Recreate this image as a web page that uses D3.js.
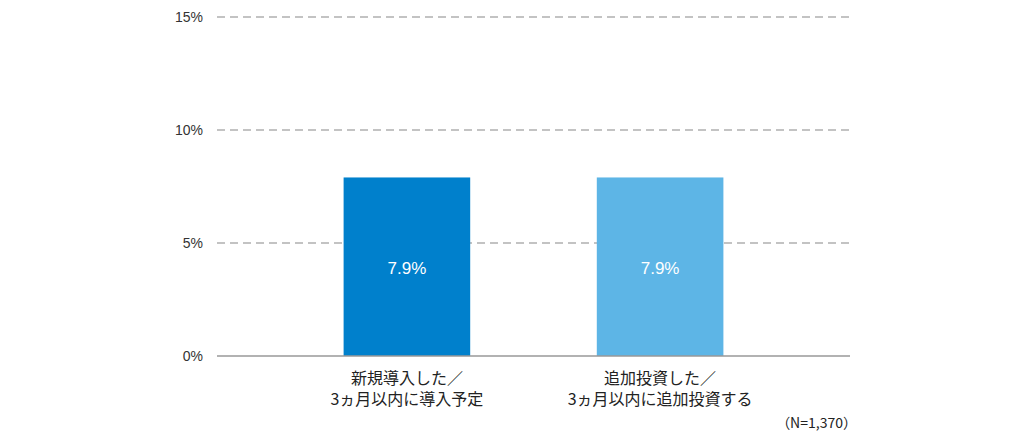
<!DOCTYPE html>
<html><head><meta charset="utf-8">
<script src="https://cdn.jsdelivr.net/npm/d3@7"></script>
<style>body{margin:0;background:#fff;font-family:"Noto Sans CJK JP",Arial,sans-serif;}</style>
</head><body><svg id="chart" width="1030" height="447"></svg>
<script>
// chart data
const categories = [["新規導入した／", "3ヵ月以内に導入予定"], ["追加投資した／", "3ヵ月以内に追加投資する"]];
const values = [7.9, 7.9];
const colors = ["#0080cc", "#5db5e6"];
const yTicks = [0, 5, 10, 15];

const svg = d3.select("#chart");
const plotLeft = 217, plotRight = 850, plotTop = 17, plotBottom = 356;

const x = d3.scaleBand().domain(d3.range(values.length)).range([plotLeft, plotRight]).padding(0.5);
const y = d3.scaleLinear().domain([0, 15]).range([plotBottom, plotTop]);

// gridlines and tick labels
svg.selectAll(".grid").data(yTicks.filter(d => d > 0)).enter().append("line")
  .attr("x1", plotLeft).attr("x2", plotRight).attr("y1", d => y(d)).attr("y2", d => y(d))
  .attr("stroke", "#b0b0b0").attr("stroke-width", 1.3).attr("stroke-dasharray", "8,5");
svg.selectAll(".tick").data(yTicks).enter().append("text")
  .attr("x", 203).attr("y", d => y(d) + 5).attr("text-anchor", "end")
  .attr("font-family", "Arial, 'Liberation Sans', sans-serif").attr("font-size", 14).attr("fill", "#333")
  .text(d => d + "%");

// bars
svg.selectAll("rect").data(values).enter().append("rect")
  .attr("x", (d, i) => x(i)).attr("width", x.bandwidth())
  .attr("y", d => y(d)).attr("height", d => plotBottom - y(d)).attr("fill", (d, i) => colors[i]);

// value labels
svg.selectAll(".val").data(values).enter().append("text")
  .attr("x", (d, i) => x(i) + x.bandwidth() / 2).attr("y", 274).attr("text-anchor", "middle")
  .attr("font-family", "Arial, 'Liberation Sans', sans-serif").attr("font-size", 17).attr("fill", "#fff")
  .text(d => d.toFixed(1) + "%");

// baseline
svg.append("line").attr("x1", plotLeft).attr("x2", plotRight).attr("y1", plotBottom).attr("y2", plotBottom)
  .attr("stroke", "#999").attr("stroke-width", 1.5);

// category labels
categories.forEach((lines, i) => {
  lines.forEach((t, j) => {
    svg.append("text").attr("x", x(i) + x.bandwidth() / 2).attr("y", 384 + j * 21)
      .attr("text-anchor", "middle").attr("font-size", 16).attr("fill", "#222").text(t);
  });
});

svg.append("text").attr("x", 857).attr("y", 428).attr("text-anchor", "end")
  .attr("font-size", 14).attr("fill", "#222").text("（N=1,370）");
</script></body></html>
